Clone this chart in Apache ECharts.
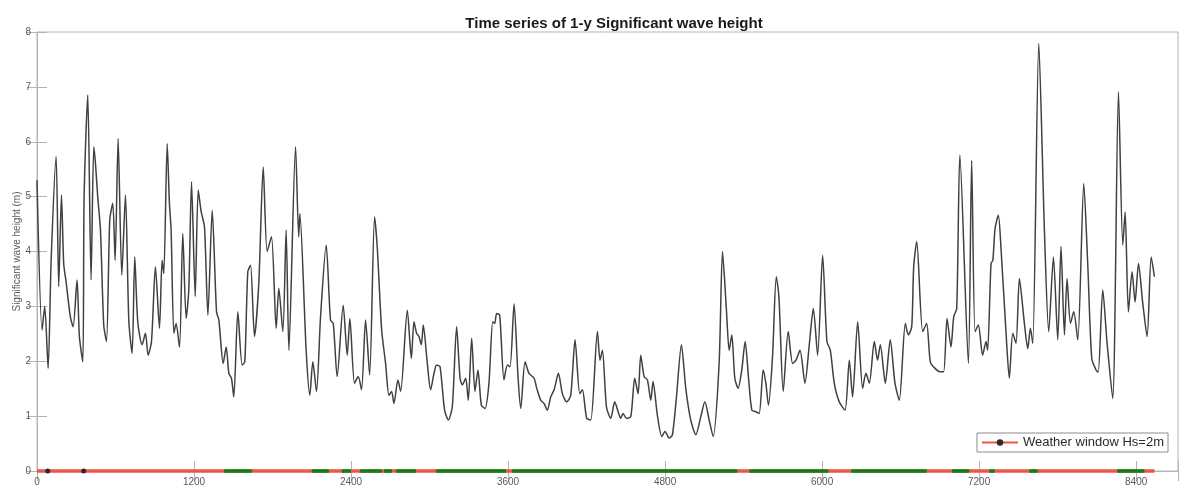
<!DOCTYPE html>
<html>
<head>
<meta charset="utf-8">
<script src="https://cdn.jsdelivr.net/npm/echarts@6/dist/echarts.min.js"></script>
<style>html,body{margin:0;padding:0;background:#fff;}#c{width:1179px;height:490px;}</style>
</head>
<body>
<div id="c"></div>
<script>
// Hours (x) and significant wave height Hs (m)
var hours = [0,39,59,85,108,146,166,187,204,222,255,276,306,324,350,360,388,413,434,447,464,485,510,531,556,579,597,620,648,676,702,727,747,770,803,829,849,875,905,936,956,969,995,1012,1025,1046,1063,1089,1114,1140,1160,1181,1209,1232,1255,1280,1306,1339,1372,1390,1423,
1446,1466,1486,1504,1535,1568,1588,1611,1632,1662,1695,1729,1759,1792,1828,1848,1879,1904,1925,1976,2000,2009,2057,2085,2108,2136,2167,2210,2243,2264,2294,2340,2371,2391,2427,2455,2480,2511,2542,2580,2600,2634,2664,2690,2710,2728,2758,2779,2830,
2861,2881,2901,2919,2937,2952,2983,3008,3034,3054,3080,3115,3144,3174,3207,3233,3251,3276,3296,3322,3347,3370,3396,3424,3454,3483,3498,3513,3536,3569,3595,3615,3646,3676,3697,3730,3760,3799,3819,3850,3875,3900,3926,3952,3985,4015,4048,4079,4112,4148,4168,4201,4232,
4283,4303,4321,4352,4385,4415,4441,4461,4479,4504,4538,4568,4594,4614,4640,4665,4691,4708,4741,4775,4800,4831,4856,4887,4925,4958,4996,5035,5073,5104,5137,5167,5213,5239,5269,5290,5310,5333,5358,5386,5412,5437,5463,5493,5519,5550,5570,5590,5621,5650,
5670,5703,5741,5775,5800,5831,5869,5902,5933,5966,6004,6037,6063,6093,6131,6175,6208,6233,6272,6310,6335,6361,6399,6424,6445,6483,6521,6557,6590,6636,6659,6685,6700,6723,6769,6799,6827,6863,6901,6929,6955,6985,7006,7029,7053,
7118,7143,7169,7194,7227,7253,7265,7291,7305,7322,7347,7368,7406,7431,7457,7482,7508,7546,7572,7592,7610,7656,7699,7732,7768,7801,7826,7852,7872,7898,7923,7954,8000,8030,8061,8094,8110,8145,8178,8221,8265,8298,8316,8341,8369,8392,8418,8451,8484,8515,8540];
var hs = [5.3,2.57,3.0,1.87,3.84,5.73,3.36,5.03,3.78,3.45,2.81,2.63,3.48,2.45,1.99,5.0,6.85,3.48,5.91,5.6,5.0,4.39,2.66,2.36,4.57,4.88,3.84,6.06,3.57,5.03,2.72,2.14,3.9,2.72,2.3,2.51,2.11,2.36,3.72,2.6,3.84,3.6,5.97,4.88,4.39,2.51,2.69,2.26,4.33,2.78,3.3,5.27,3.18,5.12,4.72,4.45,2.84,4.75,2.9,2.75,1.96,
2.26,1.78,1.69,1.35,2.9,1.93,1.99,3.63,3.75,2.45,3.42,5.54,4.0,4.27,2.6,3.33,2.54,4.39,2.2,5.91,4.27,4.69,2.2,1.38,1.99,1.45,2.81,4.12,2.75,2.69,1.72,3.02,2.11,2.78,1.6,1.72,1.48,2.75,1.75,4.63,4.09,2.57,1.96,1.38,1.45,1.23,1.66,1.45,2.93,
2.05,2.72,2.51,2.45,2.3,2.66,1.96,1.48,1.78,1.93,1.9,1.11,0.93,1.17,2.63,1.69,1.57,1.69,1.29,2.42,1.45,1.84,1.2,1.14,1.6,2.72,2.69,2.87,2.84,1.66,1.93,1.9,3.05,1.72,1.14,1.99,1.78,1.69,1.51,1.29,1.23,1.11,1.35,1.48,1.78,1.41,1.26,1.38,2.39,1.41,1.48,0.96,0.93,
2.54,2.02,2.2,1.17,0.96,1.26,1.08,0.96,1.05,0.96,0.99,1.69,1.41,2.11,1.72,1.66,1.29,1.63,1.02,0.63,0.72,0.6,0.66,1.35,2.3,1.51,0.93,0.66,0.99,1.26,0.93,0.63,1.96,4.0,2.93,2.2,2.48,1.69,1.51,1.84,2.36,1.72,1.11,1.08,1.05,1.84,1.6,1.2,2.08,3.54,
3.18,1.45,2.54,1.96,2.02,2.2,1.6,2.3,2.96,2.11,3.93,2.36,2.2,1.6,1.26,1.11,2.02,1.35,2.72,1.51,1.78,1.6,2.36,2.02,2.3,1.6,2.39,1.6,1.29,2.69,2.48,2.63,3.72,4.18,2.54,2.69,1.99,1.87,1.81,1.81,2.78,2.26,2.81,2.96,5.76,
1.96,5.66,2.54,2.66,2.11,2.36,2.2,3.78,3.84,4.42,4.66,4.03,2.51,1.69,2.51,2.33,3.51,2.69,2.23,2.6,2.33,7.79,4.39,2.54,3.9,2.39,4.09,2.48,3.51,2.69,2.9,2.39,5.24,3.78,2.05,1.84,1.8,3.3,2.33,1.32,6.91,4.12,4.72,2.9,3.63,3.08,3.78,3.05,2.45,3.9,3.54];

// Weather window (Hs = 2 m): workable intervals in hours (green), the rest red
var windowStart = [1430,2100,2330,2470,2652,2744,3050,3631,5444,6222,6992,7277,7584,8255];
var windowEnd   = [1642,2231,2400,2636,2713,2897,3585,5352,6048,6800,7124,7320,7647,8463];
var markerHours = [82,357];
var seriesEnd = 8540;

var xTicks = [0,1200,2400,3600,4800,6000,7200,8400];
var yTicks = [0,1,2,3,4,5,6,7,8];

var hsData = hours.map(function(h,i){return [h, hs[i]];});
var redData = [{value:[0,0],symbol:'none'}];
markerHours.forEach(function(h){redData.push({value:[h,0]});});
redData.push({value:[seriesEnd,0],symbol:'none'});
var greenData = [];
windowStart.forEach(function(s,i){ greenData.push([s,0]); greenData.push([windowEnd[i],0]); greenData.push([null,null]); });

var chart = echarts.init(document.getElementById('c'), null, {renderer:'canvas'});
var axisCol = '#b4b4b4', labCol = '#5a5a5a';
chart.setOption({
  animation:false,
  backgroundColor:'#fff',
  title:{text:'Time series of 1-y Significant wave height', left:609, top:11, textAlign:'center',
    textStyle:{fontFamily:'Liberation Sans, Arial', fontSize:15, fontWeight:'bold', color:'#1a1a1a'}},
  legend:{data:['Weather window Hs=2m'], right:11, bottom:38, orient:'horizontal',
    backgroundColor:'#fff', borderColor:'#8c8c8c', borderWidth:1, padding:[3,4,3,4],
    itemWidth:36, itemHeight:8, itemGap:4,
    textStyle:{fontFamily:'Liberation Sans, Arial', fontSize:13, color:'#2a2a2a'}},
  grid:{left:37, right:1, top:32, bottom:19, show:true, borderColor:axisCol, borderWidth:1, backgroundColor:'#fff',
    containLabel:false, outerBoundsMode:'none'},
  xAxis:[{type:'value', min:0, max:8720, interval:1200, position:'bottom',
      name:'Hours', nameLocation:'middle', nameGap:12,
      nameTextStyle:{fontFamily:'Liberation Sans, Arial', fontSize:10, color:labCol},
      axisLine:{show:true, lineStyle:{color:axisCol}},
      axisTick:{show:true, inside:true, length:10, lineStyle:{color:axisCol}},
      axisLabel:{fontFamily:'Liberation Sans, Arial', fontSize:10, color:labCol, margin:6,
        formatter:function(v){return xTicks.indexOf(v)>=0 ? String(v) : '';}},
      splitLine:{show:false}},
    {type:'value', min:0, max:8720, interval:1200, position:'top',
      axisLine:{show:false}, axisTick:{show:true, inside:true, length:10, lineStyle:{color:axisCol}},
      axisLabel:{show:false}, splitLine:{show:false}}],
  yAxis:[{type:'value', min:0, max:8, interval:1, position:'left',
      name:'Significant wave height (m)', nameLocation:'middle', nameGap:15, nameMoveOverlap:false,
      nameTextStyle:{fontFamily:'Liberation Sans, Arial', fontSize:10, color:labCol},
      axisLine:{show:true, lineStyle:{color:axisCol}},
      axisTick:{show:true, inside:true, length:10, lineStyle:{color:axisCol}},
      axisLabel:{fontFamily:'Liberation Sans, Arial', fontSize:10, color:labCol, margin:6,
        formatter:function(v){return yTicks.indexOf(v)>=0 ? String(v) : '';}},
      splitLine:{show:false}},
    {type:'value', min:0, max:8, interval:1, position:'right',
      axisLine:{show:false}, axisTick:{show:true, inside:true, length:10, lineStyle:{color:axisCol}},
      axisLabel:{show:false}, splitLine:{show:false}}],
  series:[
    {name:'Hs', type:'line', data:hsData, xAxisIndex:0, yAxisIndex:0, showSymbol:false, symbol:'none',
      smooth:0.25, lineStyle:{color:'#404040', width:1.5}, z:3},
    {name:'Weather window Hs=2m', type:'line', data:redData, xAxisIndex:0, yAxisIndex:0, clip:false,
      symbol:'circle', symbolSize:5, showSymbol:true,
      itemStyle:{color:'#2a2a2a'}, lineStyle:{color:'#ee5548', width:3.5}, z:4},
    {name:'window', type:'line', data:greenData, xAxisIndex:0, yAxisIndex:0, clip:false, connectNulls:false,
      symbol:'none', showSymbol:false, lineStyle:{color:'#12801a', width:3.5}, z:5}
  ]
});
</script>
</body>
</html>
